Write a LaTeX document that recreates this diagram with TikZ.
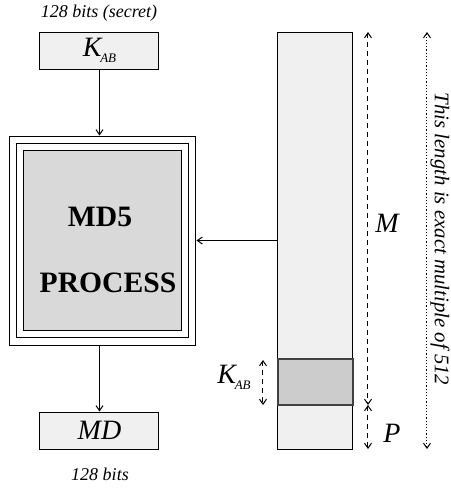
\documentclass[tikz,border=0pt]{standalone}
\usepackage{fontspec}
\setmainfont{Liberation Serif}
\usetikzlibrary{arrows.meta, positioning}

\definecolor{lightfill}{HTML}{F0F0F0}
\definecolor{procfill}{HTML}{D9D9D9}
\definecolor{keyfill}{HTML}{CCCCCC}

\newcommand{\kab}{\textit{K}\kern-0.6pt\raisebox{-3pt}{\fontsize{6.5}{7}\selectfont\textit{AB}}}

\tikzset{
  box/.style={draw, line width=0.5pt, fill=lightfill, inner sep=0pt},
  big/.style={font=\fontsize{14}{16}\selectfont\itshape},
  note/.style={font=\fontsize{9}{10}\selectfont\itshape},
  flow/.style={->, line width=0.5pt},
  span/.style={<->, line width=0.5pt, dash pattern=on 2.5pt off 2pt},
}

\begin{document}
\begin{tikzpicture}[x=0.5pt, y=-0.5pt, >={Straight Barb[length=2.5pt,width=3.5pt]}]
\useasboundingbox (0,0) rectangle (451,489);

% Key, process and digest
\node[note] (secret) at (99,13) {128 bits (secret)};
\node[box, big, minimum width=59.5pt, minimum height=18.5pt] (kab) at (99.5,50.5) {\kab};
\node[draw, line width=0.5pt, minimum width=93pt, minimum height=104.5pt] (proc) at (103,240.5) {};
\node[draw, line width=0.5pt, minimum width=86pt, minimum height=97pt] (procmid) at (proc.center) {};
\node[draw, line width=0.5pt, fill=procfill, minimum width=79pt, minimum height=90pt] (procin) at (proc.center) {};
\node[font=\fontsize{14.8}{16}\selectfont\bfseries] (md5) at (100,217) {MD5};
\node[font=\fontsize{14.8}{16}\selectfont\bfseries] (process) at (108,283) {PROCESS};
\node[box, big, minimum width=59.5pt, minimum height=18.5pt] (md) at (99.5,430.5) {MD};
\node[note] (bits) at (100,474) {128 bits};

% Message column
\node[box, minimum width=37.5pt, minimum height=208.5pt] (msg) at (315.5,240.5) {};
\node[box, fill=keyfill, draw=black!75, line width=0.9pt, minimum width=37.5pt, minimum height=23pt] (keyblk) at (315.5,382) {};
\node[big] (mlab) at (387,223) {M};
\node[big] (plab) at (392,433) {P};
\node[big] (klab) at (234,377) {\kab};
\node[rotate=-90, font=\fontsize{10.4}{12}\selectfont\itshape] (len) at (440,239) {This length is exact multiple of 512};

\coordinate (mtop) at (368,32);
\coordinate (mbot) at (368,405);
\coordinate (pbot) at (368,449);
\coordinate (ktop) at (263,360);
\coordinate (kbot) at (263,405);
\coordinate (ltop) at (427,32);
\coordinate (lbot) at (427,449);

% Connectors
\draw[flow] (kab.south) -- (kab.south |- proc.north);
\draw[flow] (kab.south |- proc.south) -- (md.north);
\draw[flow] (msg.west) -- (msg.west -| proc.east);
\draw[span] (mtop) -- (mbot);
\draw[span] (mbot) -- (pbot);
\draw[span] (ktop) -- (kbot);
\draw[<->, line width=0.5pt, dash pattern=on 0.6pt off 1pt] (ltop) -- (lbot);
\end{tikzpicture}
\end{document}
